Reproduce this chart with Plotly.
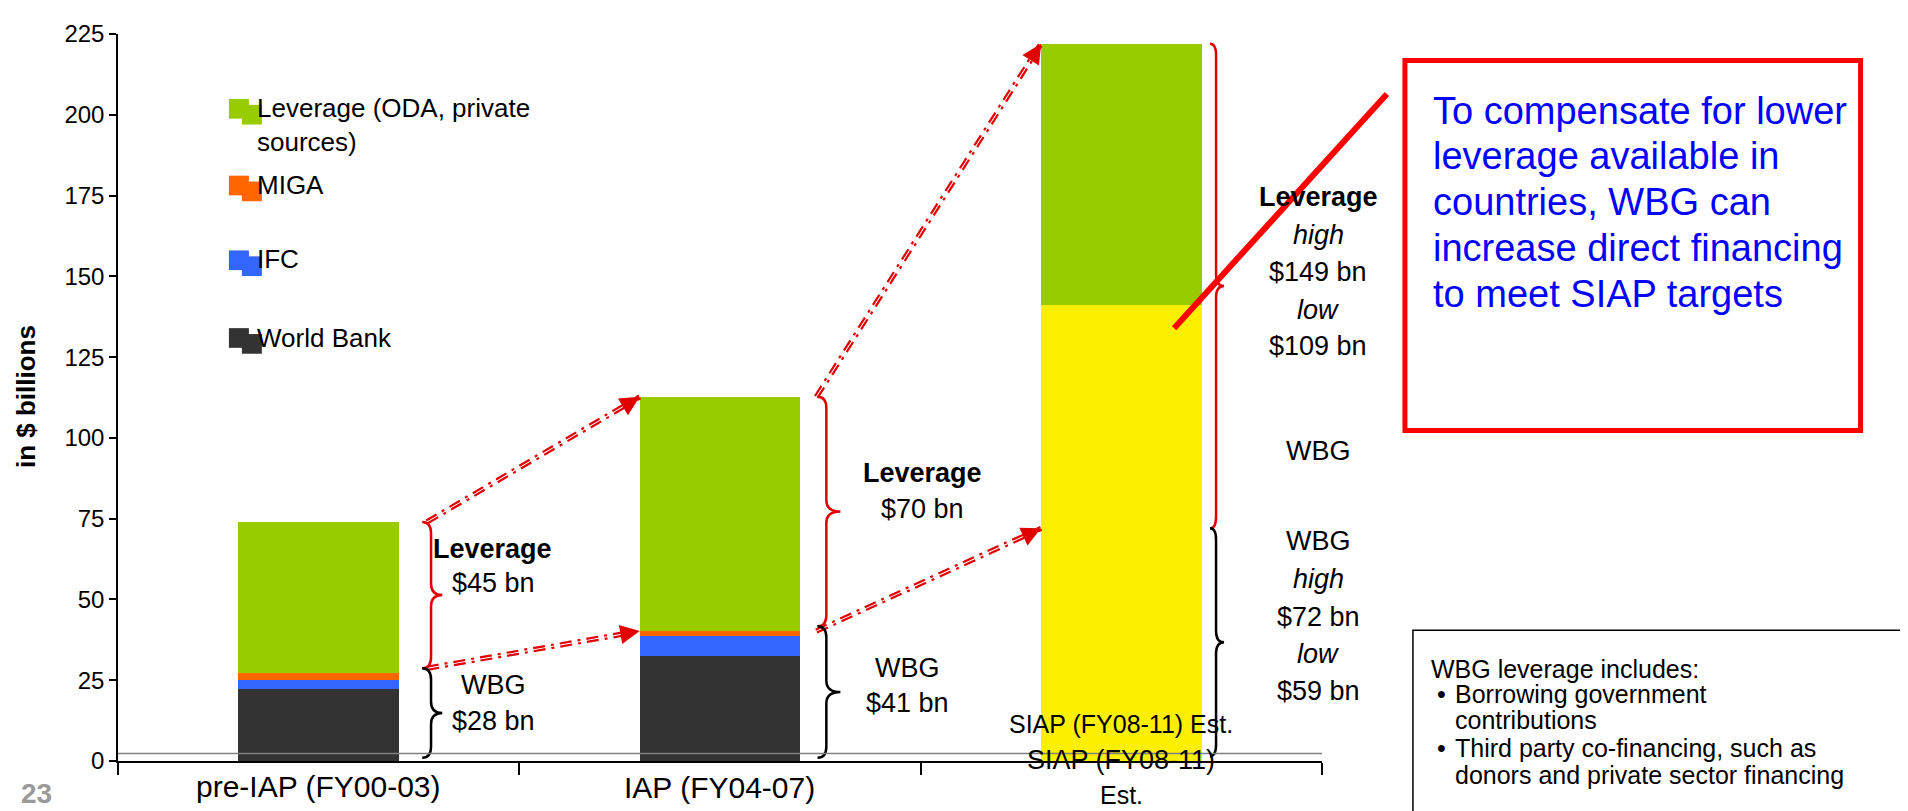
import math
import plotly.graph_objects as go

# ---------------- data ----------------
categories = ["pre-IAP (FY00-03)", "IAP (FY04-07)", "SIAP (FY08-11) Est."]
world_bank = [22.3, 32.4, 0.0]
ifc = [2.7, 6.4, 0.0]
miga = [2.2, 1.4, 0.0]
wbg_siap = [0.0, 0.0, 141.2]
leverage = [46.8, 72.5, 80.8]
wbg_labels = ["$28 bn", "$41 bn"]
lev_labels = ["$45 bn", "$70 bn"]
siap_lev_high, siap_lev_low = "$149 bn", "$109 bn"
siap_wbg_high, siap_wbg_low = "$72 bn", "$59 bn"
siap_wbg_high_value = 72.0
y_ticks = [0, 25, 50, 75, 100, 125, 150, 175, 200, 225]

C_WB, C_IFC, C_MIGA, C_LEV, C_YEL = "#333333", "#3366FF", "#FF6600", "#99CC00", "#FCF000"
RED = "#E00000"
FONT = "Liberation Sans, Arial, sans-serif"

# ---------------- geometry of the page ----------------
W, H = 1908, 811
SX, SY = -8.5, -10            # global placement correction
L, R, T, B = 118 + SX, 1323 + SX, 24 + SY, 763 + SY   # plot area in pixels
XR = (-0.5, 2.5)
YR = (0, 225)
PX_X = (R - L) / (XR[1] - XR[0])
PX_Y = (B - T) / (YR[1] - YR[0])

def px(xp, yp):
    xp, yp = xp + SX, yp + SY
    return (xp - L) / (R - L), (B - yp) / (B - T)

xs = list(range(len(categories)))
wbg_tot = [a + b + c + d for a, b, c, d in zip(world_bank, ifc, miga, wbg_siap)]
totals = [w + l for w, l in zip(wbg_tot, leverage)]
BW = 0.4

fig = go.Figure()
for vals, name, col in [(world_bank, "World Bank", C_WB), (ifc, "IFC", C_IFC),
                        (miga, "MIGA", C_MIGA), (wbg_siap, "WBG", C_YEL),
                        (leverage, "Leverage (ODA, private sources)", C_LEV)]:
    fig.add_trace(go.Bar(x=xs, y=vals, name=name, width=BW, marker=dict(color=col, line=dict(width=0)),
                         showlegend=False, hoverinfo="y+name"))

# ---------------- dashed arrows ----------------
def arrow(x0, y0, x1, y1):
    dxp = (x1 - x0) * PX_X
    dyp = (y1 - y0) * PX_Y
    ln = math.hypot(dxp, dyp)
    nx, ny = -dyp / ln, dxp / ln
    for off in (-1.6, 1.6):
        ox, oy = nx * off / PX_X, ny * off / PX_Y
        fig.add_trace(go.Scatter(x=[x0 + ox, x1 + ox], y=[y0 + oy, y1 + oy], mode="lines",
                                 line=dict(color=RED, width=2.2, dash="12px,6px,3px,6px"),
                                 showlegend=False, hoverinfo="skip"))
    ux, uy = dxp / ln, -dyp / ln
    fig.add_annotation(x=x1, y=y1, xref="x", yref="y", ax=-ux * 20, ay=-uy * 20, text="",
                       showarrow=True, arrowhead=2, arrowsize=1.3, arrowwidth=3, arrowcolor=RED)

arrow(0 + 0.27, totals[0], 1 - BW / 2, totals[1])
arrow(0 + 0.27, wbg_tot[0] + 1.5, 1 - BW / 2, wbg_tot[1])
arrow(1 + 0.24, totals[1], 2 - BW / 2, totals[2])
arrow(1 + 0.24, wbg_tot[1], 2 - BW / 2, siap_wbg_high_value)

# ---------------- braces ----------------
def brace(x, y0, y1, color, hw=0.022, cw=0.03, r=3.5):
    ym = (y0 + y1) / 2
    p = (f"M {x-hw},{y1} Q {x},{y1} {x},{y1-r} L {x},{ym+r} Q {x},{ym} {x+cw},{ym} "
         f"Q {x},{ym} {x},{ym-r} L {x},{y0+r} Q {x},{y0} {x-hw},{y0}")
    fig.add_shape(type="path", path=p, xref="x", yref="y", line=dict(color=color, width=2.5))

bx = [0.28, 1.265, 2.236]
bc = [0.028, 0.035, 0.02]
for i in range(2):
    brace(bx[i], wbg_tot[i] + 1.5, totals[i], RED, cw=bc[i])
    brace(bx[i], 1.0, wbg_tot[i] + 1.5, "black", cw=bc[i])
brace(bx[2], siap_wbg_high_value, totals[2], RED, cw=bc[2], hw=0.015)
brace(bx[2], 1.5, siap_wbg_high_value, "black", cw=bc[2], hw=0.015)

# second (offset) baseline as in the slide
fig.add_shape(type="line", xref="paper", yref="y", x0=0, x1=1, y0=2.3, y1=2.3,
              line=dict(color="#808080", width=1.5))

# ---------------- text helpers ----------------
def text(xp, yp, s, size, color="black", xanchor="center", angle=0, align="center"):
    x, y = px(xp, yp)
    fig.add_annotation(x=x, y=y, xref="paper", yref="paper", text=s, showarrow=False,
                       xanchor=xanchor, yanchor="middle", textangle=angle, align=align,
                       font=dict(family=FONT, size=size, color=color))

# bar labels
text(493, 547, "<b>Leverage</b>", 27)
text(494, 582, lev_labels[0], 27)
text(494, 686, "WBG", 27)
text(494, 722, wbg_labels[0], 27)
text(923, 470, "<b>Leverage</b>", 27)
text(923, 507, lev_labels[1], 27)
text(908, 668, "WBG", 27)
text(908, 704, wbg_labels[1], 27)

col_x = 1319
for yp, s in [(190, "<b>Leverage</b>"), (228, "<i>high</i>"), (266, siap_lev_high),
              (305, "<i>low</i>"), (341, siap_lev_low), (448, "WBG"), (539, "WBG"),
              (578, "<i>high</i>"), (617, siap_wbg_high), (654, "<i>low</i>"), (692, siap_wbg_low)]:
    text(col_x, yp, s, 27)

# category labels
text(319, 789, categories[0], 30)
text(720, 790, categories[1], 30)
text(1122, 725, categories[2], 25)
text(1122, 762, "SIAP (FY08-11)", 27)
text(1122, 798, "Est.", 25)

# axis title and page number
text(26, 393, "<b>in $ billions</b>", 26, angle=-90)
text(36, 796, "<b>23</b>", 28, color="#9A9A9A")

# ---------------- manual legend ----------------
legend_items = [("Leverage (ODA, private<br>sources)", C_LEV, 100, 116),
                ("MIGA", C_MIGA, 178, 177),
                ("IFC", C_IFC, 254, 253),
                ("World Bank", C_WB, 333, 333)]
for label, col, ysq, ytx in legend_items:
    for dx, dy in [(0, 0), (13, 6)]:
        x0, y0 = px(229 + dx, ysq + 10 + dy)
        x1, y1 = px(249 + dx, ysq - 10 + dy)
        fig.add_shape(type="rect", xref="paper", yref="paper", x0=x0, x1=x1, y0=y0, y1=y1,
                      fillcolor=col, line=dict(width=0))
    text(255, ytx, label, 26, xanchor="left", align="left")

# ---------------- callout box ----------------
bx0, by0 = px(1406, 427)
bx1, by1 = px(1862, 51)
fig.add_shape(type="rect", xref="paper", yref="paper", x0=bx0, x1=bx1, y0=by0, y1=by1,
              line=dict(color="#FF0000", width=5), fillcolor="white", layer="below")
for yp, s in [(102, "To compensate for lower"), (148.5, "leverage available in"),
              (195, "countries, WBG can"), (241.5, "increase direct financing"),
              (288, "to meet SIAP targets")]:
    text(1432, yp, s, 38, color="#0000FF", xanchor="left")

lx0, ly0 = px(1175, 323)
lx1, ly1 = px(1388, 85)
fig.add_shape(type="line", xref="paper", yref="paper", x0=lx0, y0=ly0, x1=lx1, y1=ly1,
              line=dict(color="#FF0000", width=6))

# ---------------- note box ----------------
nx0, ny0 = px(1414, 830)
nx1, ny1 = px(1920, 630)
fig.add_shape(type="rect", xref="paper", yref="paper", x0=nx0, x1=nx1, y0=ny0, y1=ny1,
              line=dict(color="black", width=1.5))
text(1430, 669, "WBG leverage includes:", 25, xanchor="left")
text(1436, 695, "•", 25, xanchor="left")
text(1454, 695, "Borrowing government", 25, xanchor="left")
text(1454, 721, "contributions", 25, xanchor="left")
text(1436, 750, "•", 25, xanchor="left")
text(1454, 750, "Third party co-financing, such as", 25, xanchor="left")
text(1454, 777, "donors and private sector financing", 25, xanchor="left")

# ---------------- layout ----------------
fig.update_layout(
    width=W, height=H, barmode="stack", bargap=0.6,
    margin=dict(l=L, r=W - R, t=T, b=H - B, pad=0),
    paper_bgcolor="white", plot_bgcolor="white",
    font=dict(family=FONT, color="black"),
    showlegend=False,
    xaxis=dict(range=list(XR), tickvals=[-0.5, 0.5, 1.5, 2.5], showticklabels=False,
               ticks="outside", ticklen=12, tickcolor="black", tickwidth=1.5,
               showline=True, linecolor="black", linewidth=1.5, showgrid=False, zeroline=False),
    yaxis=dict(range=list(YR), tickvals=y_ticks, ticks="outside", ticklen=7, tickcolor="black",
               tickwidth=1.5, showline=True, linecolor="black", linewidth=1.5, showgrid=False,
               zeroline=False, tickfont=dict(size=24, family=FONT, color="black")),
)

fig.write_html("out.html")
